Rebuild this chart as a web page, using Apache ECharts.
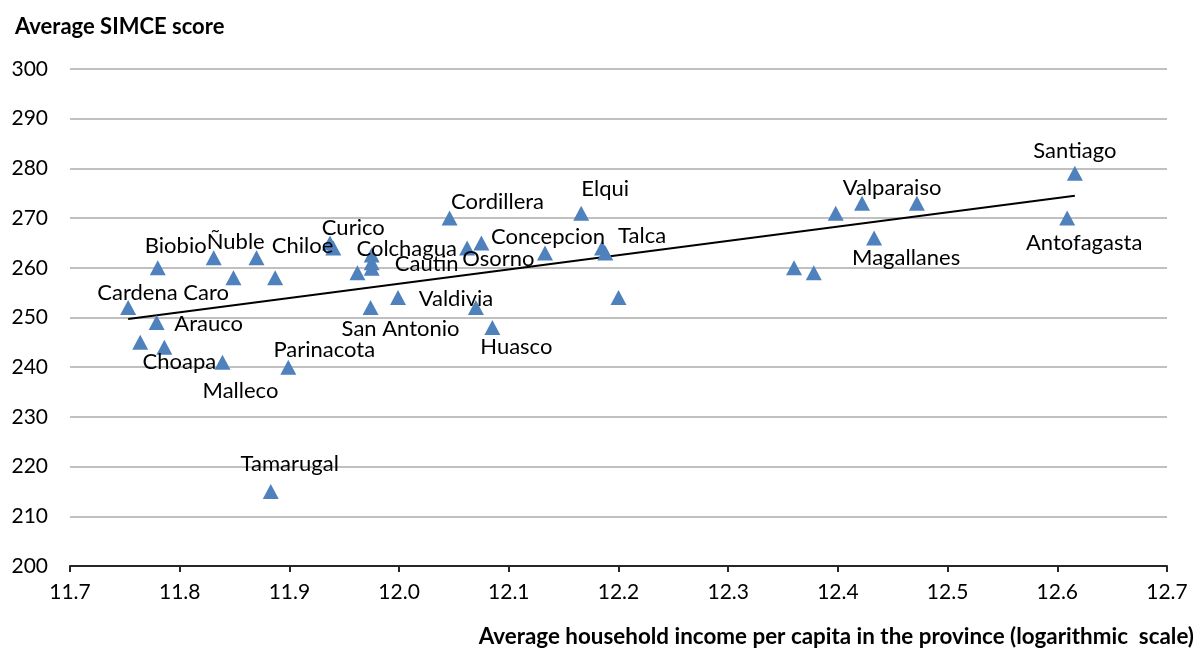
<!DOCTYPE html>
<html>
<head>
<meta charset="utf-8">
<script src="https://cdn.jsdelivr.net/npm/echarts@6/dist/echarts.min.js"></script>
<style>
html,body{margin:0;padding:0;background:#fff;}
#chart{width:1203px;height:649px;}
</style>
</head>
<body>
<div id="chart"></div>
<script>
// ---- Data ----
var provinces = ["Cardena Caro","Biobio","Arauco","","Choapa","Malleco","Parinacota","Ñuble","","Chiloe","","","Curico","","San Antonio","Colchagua","","Cautin","Valdivia","","Huasco","Cordillera","","Osorno","Concepcion","Elqui","Talca","","","","","","Valparaiso","","Magallanes","Santiago","Antofagasta","Tamarugal"];
var income = [11.753,11.780,11.779,11.764,11.786,11.839,11.899,11.831,11.849,11.870,11.887,11.937,11.940,11.962,11.974,11.975,11.975,11.975,11.999,12.070,12.085,12.046,12.062,12.075,12.133,12.166,12.185,12.188,12.200,12.360,12.378,12.398,12.422,12.472,12.433,12.616,12.609,11.883];
var simce = [252,260,249,245,244,241,240,262,258,262,258,265,264,259,252,262.6,261,259.9,254,252,248,270,264,265,263,271,264,263,254,260,259,271,273,273,266,279,270,215];
var trendIncome = [11.753, 12.616];
var trendScore = [249.7, 274.5];
var yTicks = [200,210,220,230,240,250,260,270,280,290,300];
var xTicks = [11.7,11.8,11.9,12.0,12.1,12.2,12.3,12.4,12.5,12.6,12.7];

// ---- Label placement (layout only: label centre relative to marker centre) ----
var labelOffsets = {
  "Santiago":[0,-22], "Valparaiso":[30,-15], "Antofagasta":[17,25], "Magallanes":[32,20],
  "Elqui":[24,-24], "Cordillera":[48,-16], "Concepcion":[3,-16], "Talca":[40,-12],
  "Osorno":[17,16], "Colchagua":[35,-6], "Cautin":[55,-4], "Curico":[20,-20],
  "Valdivia":[58,1], "San Antonio":[30,21], "Huasco":[24,19], "Parinacota":[36,-17],
  "Malleco":[18,29], "Choapa":[15,15], "Arauco":[52,1], "Cardena Caro":[35,-15],
  "Biobio":[18,-22], "Ñuble":[22,-16], "Chiloe":[46,-12], "Tamarugal":[19,-28]
};

var FONT = 'Lato';
var SYM = [16,15];
var pts = income.map(function(x, i){
  var o = labelOffsets[provinces[i]];
  var d = {value:[x, simce[i]], name: provinces[i]};
  if (o) {
    d.label = {show:true, formatter: provinces[i], position:[SYM[0]/2 + o[0], SYM[1]/2 + o[1]],
      align:'center', verticalAlign:'middle', fontFamily:FONT, fontSize:22, color:'#000'};
  }
  return d;
});

var chart = echarts.init(document.getElementById('chart'), null, {renderer:'canvas'});
chart.setOption({
  animation:false,
  backgroundColor:'#ffffff',
  title:[
    {text:'Average SIMCE score', left:10, top:11, textStyle:{fontFamily:FONT, fontWeight:'bold', fontSize:22, color:'#000'}},
    {text:'Average household income per capita in the province (logarithmic  scale)', right:4, top:621, textStyle:{fontFamily:FONT, fontWeight:'bold', fontSize:22.4, color:'#000'}}
  ],
  grid:{left:70, right:36, top:69, bottom:83, containLabel:false},
  xAxis:{
    type:'value', min:xTicks[0], max:xTicks[xTicks.length-1], interval:0.1,
    axisLine:{show:true, onZero:false, lineStyle:{color:'#262626', width:2}},
    axisTick:{show:true, length:6, lineStyle:{color:'#262626', width:2}},
    splitLine:{show:false},
    axisLabel:{margin:16, fontFamily:FONT, fontSize:21, color:'#000', formatter:function(v){return v.toFixed(1);}}
  },
  yAxis:{
    type:'value', min:yTicks[0], max:yTicks[yTicks.length-1], interval:10,
    axisLine:{show:false}, axisTick:{show:false},
    splitLine:{show:true, lineStyle:{color:'#c0c0c0', width:2}},
    axisLabel:{margin:22, fontFamily:FONT, fontSize:21, color:'#000'}
  },
  series:[
    {
      type:'line', data: trendIncome.map(function(x,i){return [x, trendScore[i]];}),
      showSymbol:false, symbol:'none', lineStyle:{color:'#000', width:2}, z:3, silent:true
    },
    {
      type:'scatter', data: pts, symbol:'triangle', symbolSize:SYM,
      itemStyle:{color:'#4F81BD', opacity:1}, z:4,
      label:{show:false, fontFamily:FONT, fontSize:22, color:'#000'},
      labelLayout:{hideOverlap:false}
    }
  ]
});
</script>
</body>
</html>
